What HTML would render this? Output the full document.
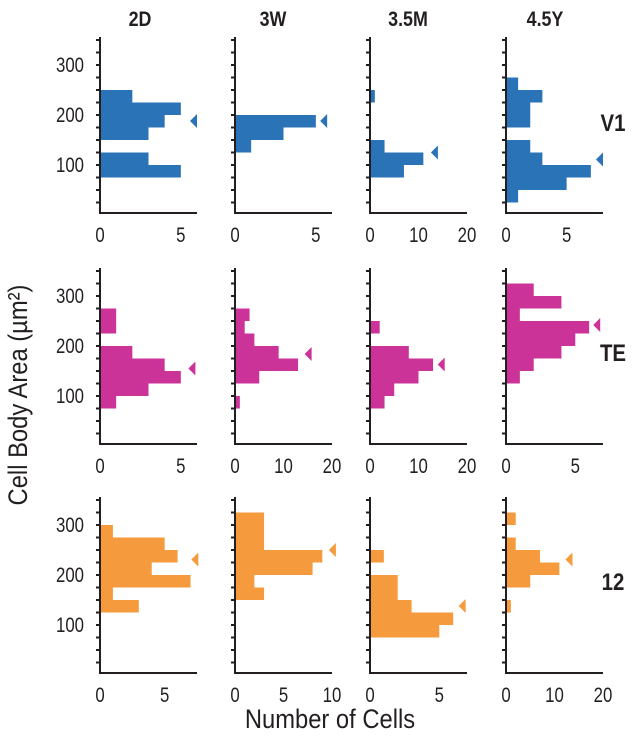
<!DOCTYPE html>
<html><head><meta charset="utf-8">
<style>
html,body{margin:0;padding:0;background:#fff;}
svg{display:block;}
text{font-family:"Liberation Sans",sans-serif;fill:#231f20;}
</style></head>
<body>
<svg id="chart" width="638" height="742" viewBox="0 0 638 742" xmlns="http://www.w3.org/2000/svg">
  <text transform="translate(140,26) scale(0.85,1)" font-size="21" font-weight="bold" text-anchor="middle">2D</text>
  <text transform="translate(273,26) scale(0.85,1)" font-size="21" font-weight="bold" text-anchor="middle">3W</text>
  <text transform="translate(408,26) scale(0.85,1)" font-size="21" font-weight="bold" text-anchor="middle">3.5M</text>
  <text transform="translate(545,26) scale(0.85,1)" font-size="21" font-weight="bold" text-anchor="middle">4.5Y</text>
  <text transform="translate(613,131) scale(0.85,1)" font-size="24" font-weight="bold" text-anchor="middle">V1</text>
  <text transform="translate(613,361) scale(0.85,1)" font-size="24" font-weight="bold" text-anchor="middle">TE</text>
  <text transform="translate(613,590) scale(0.85,1)" font-size="24" font-weight="bold" text-anchor="middle">12</text>
  <text transform="translate(27,395) rotate(-90) scale(0.88,1)" font-size="27" text-anchor="middle">Cell Body Area (µm²)</text>
  <text transform="translate(330,728) scale(0.88,1)" font-size="27" text-anchor="middle">Number of Cells</text>
</svg>
<script>
// bins: lower edges 0,25,...,325 (µm²)
const binEdges = [0,25,50,75,100,125,150,175,200,225,250,275,300,325];
const binWidth = 25;
const rowNames = ["v1","te","a12"];
const colNames = ["2d","3w","3-5m","4-5y"];
const rowColors = ["#2b73b7","#cc3399","#f59b3d"];
// counts per panel (bottom bin first)
const v1_2d  = [0,0,0,5,3,0,3,4,5,2,0,0,0,0];
const v1_3w  = [0,0,0,0,0,1,3,5,0,0,0,0,0,0];
const v1_35m = [0,0,0,7,11,3,0,0,0,1,0,0,0,0];
const v1_45y = [0,1,5,7,3,2,0,2,2,3,1,0,0,0];
const te_2d  = [0,0,0,1,3,5,4,2,0,1,1,0,0,0];
const te_3w  = [0,0,0,1,0,5,13,9,4,2,3,0,0,0];
const te_35m = [0,0,0,3,5,10,13,8,0,2,0,0,0,0];
const te_45y = [0,0,0,0,0,1,2,4,5,6,1,4,2,0];
const a12_2d  = [0,0,0,0,0,3,1,7,4,6,5,1,0,0];
const a12_3w  = [0,0,0,0,0,0,3,2,8,9,3,3,3,0];
const a12_35m = [0,0,0,5,6,3,2,2,0,1,0,0,0,0];
const a12_45y = [0,0,0,0,0,1,0,5,11,7,2,0,2,0];
// mean markers: area value and count position
const meanArea  = [[188,188,125,111],[155,184,163,242],[231,250,138,231]];
const meanCount = [[6,5.7,14,8],[5.9,15.8,15.4,6.8],[7.6,10.4,6.9,13.7]];
// x-axis maxima and tick labels
const xMax = [[6,6,20,8],[6,20,20,7],[7.5,10,7,20]];
const xTicks = [[[0,5],[0,5],[0,10,20],[0,5]],[[0,5],[0,10,20],[0,10,20],[0,5]],[[0,5],[0,5,10],[0,5],[0,10,20]]];
const yTicks = [100,200,300];

const counts = [[v1_2d,v1_3w,v1_35m,v1_45y],[te_2d,te_3w,te_35m,te_45y],[a12_2d,a12_3w,a12_35m,a12_45y]];
const NS = "http://www.w3.org/2000/svg";
const svg = document.getElementById("chart");
const axisX = [100,235,370,506];
const zeroY = [215,446,675];
const axisLen = 97;
function mk(tag, attrs){const e=document.createElementNS(NS,tag);for(const k in attrs)e.setAttribute(k,attrs[k]);svg.appendChild(e);return e;}

for(let r=0;r<3;r++){
  const yScale = v => zeroY[r] - v*0.5;
  const base = zeroY[r]-2;
  for(const t of yTicks){
    const tl = mk("text",{transform:`translate(84,${yScale(t)+7}) scale(0.8,1)`,"font-size":21,"text-anchor":"end"});
    tl.textContent = t;
    
    
  }
  for(let c=0;c<4;c++){
    const x0 = axisX[c];
    const xs = v => x0 + v*axisLen/xMax[r][c];
    const g = counts[r][c];
    for(let i=0;i<g.length;i++){
      if(g[i]<=0) continue;
      const b = mk("rect",{x:x0,y:yScale(binEdges[i]+binWidth),width:xs(g[i])-x0,height:binWidth*0.5,fill:rowColors[r]});
      
      
    }
    const ya = mk("line",{x1:x0,y1:yScale(356),x2:x0,y2:base+1,stroke:"#231f20","stroke-width":2});
    
    
    for(let v=25;v<=350;v+=25){
      const tk = mk("line",{x1:x0-4,y1:yScale(v),x2:x0,y2:yScale(v),stroke:"#231f20","stroke-width":2});
      
      
    }
    const xa = mk("line",{x1:x0-1,y1:base,x2:xs(xMax[r][c]),y2:base,stroke:"#231f20","stroke-width":2});
    
    
    for(const t of xTicks[r][c]){
      const xl = mk("text",{transform:`translate(${xs(t)},${base+29}) scale(0.8,1)`,"font-size":21,"text-anchor":"middle"});
      xl.textContent = t;
      
      
    }
    const mx = xs(meanCount[r][c]), my = yScale(meanArea[r][c]);
    const tri = mk("polygon",{points:`${mx-7},${my} ${mx},${my-7} ${mx},${my+7}`,fill:rowColors[r]});
    
    
  }
}
</script>
</body></html>
